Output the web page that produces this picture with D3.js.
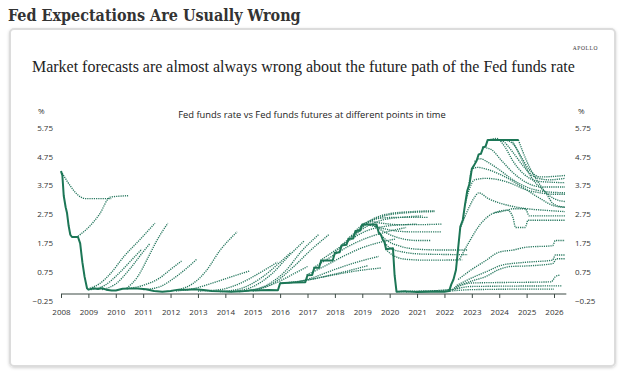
<!DOCTYPE html>
<html><head><meta charset="utf-8">
<script src="https://cdn.jsdelivr.net/npm/d3@7"></script>
<style>html,body{margin:0;padding:0;background:#fff;} svg{display:block}</style>
</head><body><svg id="c" width="624" height="381"></svg>
<script>
// ---------- DATA ----------
const titleText = "Fed Expectations Are Usually Wrong";
const subtitleText = "Market forecasts are almost always wrong about the future path of the Fed funds rate";
const chartTitle = "Fed funds rate vs Fed funds futures at different points in time";
const sourceText = "APOLLO";
const yearTicks = d3.range(2008, 2027);
const yTicks = [-0.25, 0.75, 1.75, 2.75, 3.75, 4.75, 5.75];

// Effective Fed funds rate, monthly-ish [year, %]
const fedFunds = [[2008.0,4.25],[2008.05,4.1],[2008.1,3.4],[2008.17,3.0],[2008.22,2.8],[2008.28,2.35],[2008.34,2.05],[2008.4,1.97],[2008.62,1.97],[2008.7,1.75],[2008.78,1.1],[2008.86,0.6],[2008.95,0.2],[2009.0,0.15],[2009.2,0.2],[2009.35,0.17],[2009.5,0.2],[2009.65,0.15],[2009.85,0.12],[2010.0,0.12],[2010.25,0.18],[2010.5,0.19],[2010.8,0.19],[2011.1,0.16],[2011.4,0.1],[2011.7,0.08],[2012.0,0.1],[2012.3,0.15],[2012.6,0.15],[2012.9,0.16],[2013.2,0.14],[2013.5,0.1],[2013.8,0.09],[2014.2,0.08],[2014.6,0.09],[2014.9,0.12],[2015.3,0.13],[2015.6,0.14],[2015.92,0.13],[2016.0,0.37],[2016.5,0.4],[2016.92,0.41],[2017.0,0.65],[2017.17,0.66],[2017.25,0.91],[2017.42,0.91],[2017.5,1.16],[2017.92,1.16],[2018.0,1.42],[2018.17,1.44],[2018.25,1.68],[2018.42,1.7],[2018.5,1.91],[2018.67,1.92],[2018.75,2.18],[2018.92,2.2],[2019.0,2.4],[2019.52,2.4],[2019.6,2.13],[2019.68,2.05],[2019.76,1.85],[2019.8,1.83],[2019.87,1.55],[2020.12,1.58],[2020.18,0.65],[2020.25,0.08],[2020.6,0.09],[2021.0,0.07],[2021.5,0.08],[2022.0,0.08],[2022.17,0.1],[2022.25,0.33],[2022.33,0.5],[2022.42,0.83],[2022.5,1.58],[2022.58,2.33],[2022.67,2.56],[2022.75,3.08],[2022.83,3.56],[2022.92,3.83],[2023.0,4.33],[2023.08,4.45],[2023.17,4.6],[2023.25,4.83],[2023.33,4.85],[2023.42,5.08],[2023.5,5.1],[2023.58,5.33],[2024.71,5.33]];

// Fed funds futures curves, 2008-2012
const futures2008 = [
  [[2008.0,4.25],[2008.9,3.3],[2009.85,3.3]],
  [[2008.62,2.0],[2009.0,2.3],[2009.4,2.75],[2009.8,3.35],[2010.45,3.4]],
  [[2009.05,0.2],[2009.4,0.35],[2009.8,0.7],[2010.3,1.3],[2010.9,1.9],[2011.43,2.45]],
  [[2009.1,0.15],[2009.6,0.3],[2010.1,0.7],[2010.6,1.2],[2010.95,1.55]],
  [[2009.5,0.15],[2010.0,0.35],[2010.5,0.85],[2010.95,1.4],[2011.25,1.75]],
  [[2010.4,0.2],[2010.8,0.6],[2011.2,1.3],[2011.5,1.85],[2011.9,2.45]],
  [[2010.4,0.18],[2011.0,0.3],[2011.6,0.55],[2012.0,0.85],[2012.4,1.14]],
  [[2011.0,0.15],[2011.6,0.25],[2012.2,0.6],[2012.6,0.9],[2012.95,1.2]]
];
// 2012-2017
const futures2012 = [
  [[2012.3,0.15],[2012.8,0.35],[2013.3,0.8],[2013.8,1.5],[2014.43,2.15]],
  [[2012.2,0.1],[2012.9,0.2],[2013.6,0.4],[2014.3,0.62],[2014.9,0.8]],
  [[2013.0,0.1],[2013.8,0.15],[2014.5,0.35],[2015.2,0.7],[2015.9,1.1]],
  [[2013.8,0.08],[2014.6,0.2],[2015.3,0.55],[2016.0,1.1],[2016.4,1.45]],
  [[2014.2,0.08],[2015.0,0.25],[2015.7,0.7],[2016.3,1.3],[2016.87,1.83]],
  [[2014.7,0.1],[2015.5,0.3],[2016.2,0.8],[2016.8,1.5],[2017.4,2.05]],
  [[2015.0,0.1],[2015.8,0.4],[2016.5,0.95],[2017.1,1.5],[2017.8,2.07]],
  [[2014.5,0.08],[2015.3,0.2],[2016.0,0.45],[2016.5,0.7],[2017.0,0.95]]
];
// 2016-2022
const futures2016 = [
  [[2016.0,0.37],[2016.8,0.45],[2017.6,0.6],[2018.4,0.78],[2019.2,0.98]],
  [[2016.3,0.38],[2017.1,0.5],[2017.9,0.65],[2018.8,0.8],[2019.7,0.9]],
  [[2016.6,0.4],[2017.3,0.6],[2018.0,0.85],[2018.8,1.1],[2019.6,1.3]],
  [[2016.97,0.66],[2017.6,0.95],[2018.3,1.3],[2019.0,1.6],[2019.7,1.8],[2020.2,1.9]],
  [[2017.22,0.91],[2017.8,1.25],[2018.5,1.65],[2019.2,1.95],[2019.9,2.15],[2020.6,2.3]],
  [[2017.47,1.16],[2018.0,1.5],[2018.6,1.9],[2019.2,2.2],[2019.9,2.35],[2020.6,2.4],[2021.0,2.42]],
  [[2017.97,1.42],[2018.5,1.85],[2019.1,2.3],[2019.7,2.55],[2020.4,2.65],[2021.2,2.7]],
  [[2018.22,1.68],[2018.7,2.05],[2019.2,2.45],[2019.8,2.7],[2020.5,2.8],[2021.65,2.85]],
  [[2018.47,1.91],[2018.9,2.25],[2019.4,2.6],[2020.0,2.78],[2020.8,2.85],[2021.65,2.88]],
  [[2018.74,2.18],[2019.1,2.45],[2019.5,2.6],[2020.2,2.65],[2021.4,2.65]],
  [[2018.98,2.4],[2019.3,2.5],[2019.7,2.45],[2020.3,2.4],[2021.1,2.4],[2021.9,2.42]],
  [[2019.2,2.4],[2019.6,2.3],[2020.1,2.2],[2020.8,2.15],[2021.9,2.15]],
  [[2019.4,2.4],[2019.8,2.15],[2020.3,1.95],[2021.0,1.85],[2021.5,1.85]],
  [[2019.58,2.13],[2019.9,1.85],[2020.4,1.65],[2021.0,1.55],[2022.0,1.52],[2022.85,1.52]],
  [[2019.73,1.9],[2020.0,1.6],[2020.5,1.45],[2021.2,1.38],[2022.85,1.36]],
  [[2019.85,1.55],[2020.1,1.35],[2020.6,1.2],[2021.3,1.17],[2022.65,1.18]],
  [[2020.25,0.08],[2021.0,0.1],[2021.8,0.12],[2022.3,0.15]],
  [[2020.6,0.07],[2021.4,0.1],[2022.2,0.15],[2022.6,0.22]]
];
// 2022-2026
const futures2022 = [
  [[2022.2,0.1],[2023.0,0.15],[2025.5,0.17],[2026.0,0.17]],
  [[2022.3,0.15],[2023.0,0.26],[2026.3,0.28]],
  [[2022.35,0.2],[2023.0,0.38],[2025.9,0.42],[2026.05,0.6],[2026.2,0.65]],
  [[2022.4,0.25],[2023.0,0.45],[2023.5,0.6],[2024.0,0.85],[2024.4,0.95],[2025.0,0.97],[2025.95,1.05],[2026.1,1.22],[2026.4,1.22]],
  [[2022.45,0.3],[2023.1,0.6],[2023.6,0.8],[2024.1,1.0],[2025.0,1.1],[2025.95,1.17],[2026.05,1.35],[2026.4,1.35]],
  [[2022.5,0.5],[2023.0,0.85],[2023.5,1.15],[2024.0,1.45],[2024.5,1.52],[2025.0,1.62],[2025.95,1.67],[2026.05,1.85],[2026.4,1.85]],
  [[2022.55,1.2],[2022.9,1.8],[2023.3,2.4],[2023.8,2.8],[2024.3,2.9],[2024.5,2.65],[2024.6,2.3],[2024.95,2.3],[2025.05,2.55],[2026.4,2.55]],
  [[2023.8,2.8],[2024.3,2.9],[2024.5,2.95],[2024.95,2.95],[2025.1,2.7],[2026.4,2.7]],
  [[2022.6,2.33],[2022.9,3.0],[2023.1,3.35],[2023.25,3.5],[2023.6,3.3],[2024.0,3.15],[2024.4,3.05],[2025.0,2.95],[2025.6,2.9],[2026.4,2.85]],
  [[2022.75,3.08],[2022.9,3.6],[2023.1,3.95],[2023.5,4.0],[2024.0,3.95],[2024.5,3.8],[2025.0,3.6],[2025.5,3.5],[2026.0,3.45],[2026.4,3.45]],
  [[2022.9,3.83],[2023.0,4.3],[2023.2,4.38],[2023.6,4.3],[2024.0,4.15],[2024.5,3.9],[2025.0,3.6],[2025.5,3.3],[2026.0,3.05],[2026.4,3.0]],
  [[2023.1,4.58],[2023.3,4.68],[2023.6,4.55],[2024.0,4.3],[2024.5,3.95],[2025.0,3.7],[2025.6,3.55],[2026.4,3.5]],
  [[2023.37,5.08],[2023.7,5.0],[2024.1,4.6],[2024.5,4.2],[2025.0,3.85],[2025.6,3.7],[2026.4,3.7]],
  [[2023.6,5.33],[2023.9,5.38],[2024.2,5.1],[2024.5,4.6],[2024.9,4.15],[2025.4,3.9],[2026.4,3.85]],
  [[2023.9,5.33],[2024.1,5.3],[2024.5,4.9],[2024.9,4.4],[2025.3,4.05],[2025.8,3.95],[2026.4,4.0]],
  [[2024.2,5.33],[2024.5,5.2],[2024.8,4.75],[2025.1,4.3],[2025.5,4.05],[2026.4,4.1]],
  [[2024.45,5.33],[2024.65,5.0],[2024.9,4.5],[2025.2,4.0],[2025.6,3.6],[2026.0,3.3],[2026.4,3.2]],
  [[2024.7,5.33],[2024.85,4.95],[2025.1,4.4],[2025.4,3.9],[2025.7,3.5],[2026.0,3.1],[2026.4,3.0]]
];

// ---------- DRAW ----------
const svg = d3.select("#c");
const green = "#1c7656", dotGreen = "#27785f";

const defs = svg.append("defs");
const f = defs.append("filter").attr("id","sh").attr("x","-5%").attr("y","-5%").attr("width","110%").attr("height","110%");
f.append("feDropShadow").attr("dx",0).attr("dy",1).attr("stdDeviation",1.5).attr("flood-color","#000").attr("flood-opacity",0.18);

function fit(sel, target) {
  const w = sel.node().getComputedTextLength();
  const fs = parseFloat(sel.attr("font-size"));
  sel.attr("font-size", fs * target / w);
}

// Page title
const t1 = svg.append("text").attr("x", 8).attr("y", 21)
  .attr("font-family", "'DejaVu Serif', serif").attr("font-weight", "bold")
  .attr("font-stretch","condensed")
  .attr("font-size", 16).attr("fill", "#333").text(titleText);
fit(t1, 293);

// Card
svg.append("rect").attr("x", 10).attr("y", 29).attr("width", 605).attr("height", 337)
  .attr("rx", 4).attr("fill", "#fff").attr("stroke", "#dcdcdc").attr("stroke-width", 2)
  .attr("filter","url(#sh)");

svg.append("text").attr("x", 598).attr("y", 50).attr("text-anchor", "end")
  .attr("font-family", "'Liberation Serif', serif").attr("font-size", 5.5)
  .attr("letter-spacing", 0.6).attr("fill", "#333").text(sourceText);

const st = svg.append("text").attr("x", 32).attr("y", 72)
  .attr("font-family", "'Liberation Serif', serif").attr("font-size", 17)
  .attr("fill", "#222").text(subtitleText);
fit(st, 543);

const ct = svg.append("text").attr("x", 312).attr("y", 118).attr("text-anchor", "middle")
  .attr("font-family", "'Open Sans', sans-serif").attr("font-size", 9)
  .attr("fill", "#222").text(chartTitle);
fit(ct, 268);

// Scales
const x = d3.scaleLinear().domain([2008, 2026]).range([61, 554]);
const y = d3.scaleLinear().domain([-0.25, 5.75]).range([301.2, 127.8]);

const lbl = { "font-family": "'Open Sans', sans-serif", "font-size": 8, "fill": "#333" };

// Y labels (left/right)
const gl = svg.append("g");
gl.append("text").attr("x", 38).attr("y", 114).text("%");
gl.selectAll("text.t").data(yTicks).join("text").attr("class","t")
  .attr("x", 53).attr("y", d => y(d)).attr("dy", "0.35em").attr("text-anchor", "end")
  .text(d => d3.format(".2f")(d));
const gr = svg.append("g");
gr.append("text").attr("x", 578).attr("y", 114).text("%");
gr.selectAll("text.t").data(yTicks).join("text").attr("class","t")
  .attr("x", 575).attr("y", d => y(d)).attr("dy", "0.35em")
  .text(d => d3.format(".2f")(d));
[gl, gr].forEach(g => g.selectAll("text").attr("font-family", lbl["font-family"]).attr("font-size", lbl["font-size"]).attr("fill", lbl.fill));

// X axis at 0
const xAxis = d3.axisBottom(x).tickValues(yearTicks).tickFormat(d3.format("d")).tickSize(4).tickSizeOuter(0).tickPadding(11);
const gx = svg.append("g").attr("transform", `translate(0,${y(0)})`).call(xAxis);
gx.select(".domain").attr("d", `M${x(2008)},0H${x(2026.45)}`).attr("stroke", "#3c4a45").attr("stroke-width", 1.2);
gx.selectAll(".tick line").attr("stroke", "#3c4a45");
gx.selectAll(".tick text").attr("font-family", lbl["font-family"]).attr("font-size", lbl["font-size"]).attr("fill", lbl.fill);

// Lines
const line = d3.line().x(d => x(d[0])).y(d => y(d[1])).curve(d3.curveMonotoneX);
const allFutures = [].concat(futures2008, futures2012, futures2016, futures2022);
svg.append("g").selectAll("path").data(allFutures).join("path")
  .attr("d", line).attr("fill", "none").attr("stroke", dotGreen)
  .attr("stroke-width", 1.35).attr("stroke-dasharray", "1.2,1");

const solidLine = d3.line().x(d => x(d[0])).y(d => y(d[1]));
svg.append("path").datum(fedFunds).attr("d", solidLine).attr("fill", "none")
  .attr("stroke", green).attr("stroke-width", 2).attr("stroke-linejoin", "round");
</script>
</body></html>
